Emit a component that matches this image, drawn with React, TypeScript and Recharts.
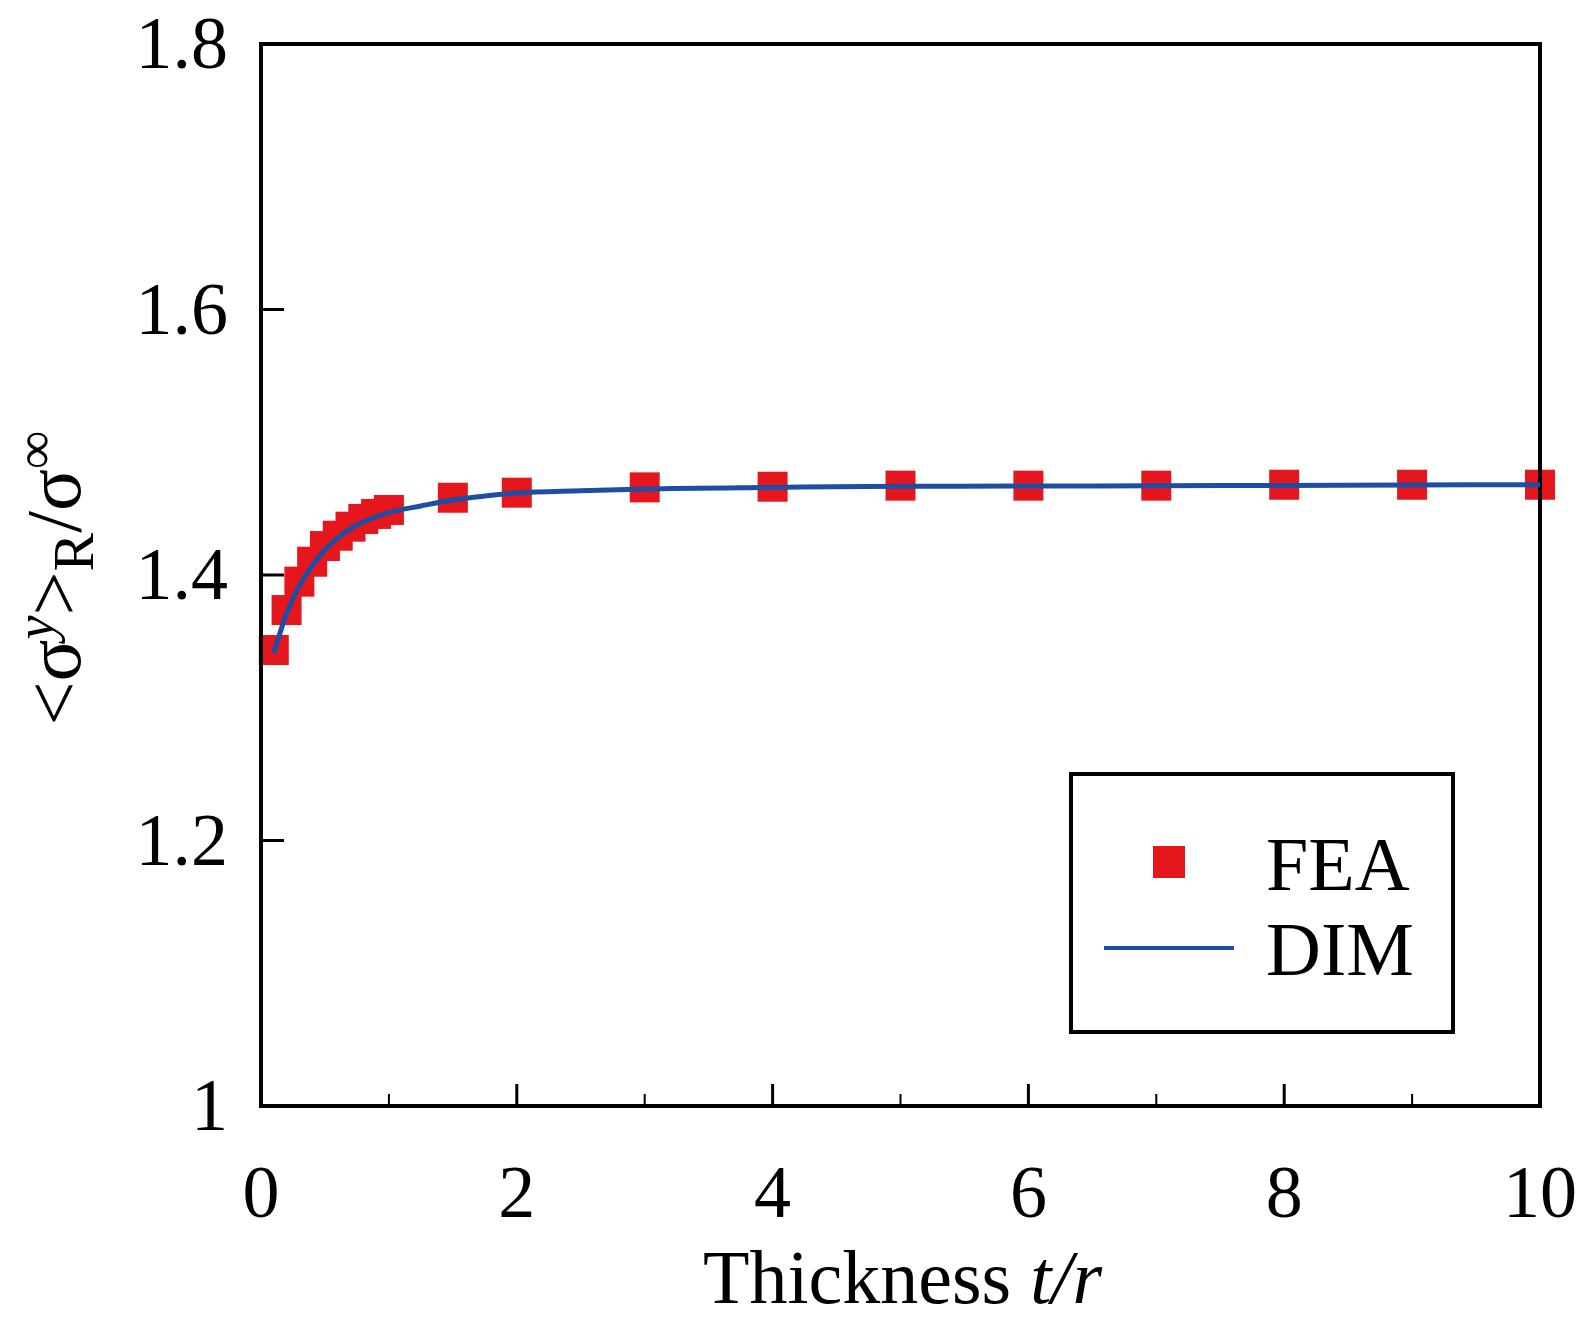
import { ComposedChart, Line, Scatter, XAxis, YAxis } from 'recharts'

// FEA samples
const feaX = [0.1, 0.2, 0.3, 0.4, 0.5, 0.6, 0.7, 0.8, 0.9, 1.0, 1.5, 2, 3, 4, 5, 6, 7, 8, 9, 10]
const feaY = [
  1.3435, 1.3736, 1.395, 1.41, 1.4218, 1.4296, 1.4364, 1.4422, 1.446, 1.449, 1.4582, 1.462,
  1.466, 1.4665, 1.4673, 1.4673, 1.4673, 1.468, 1.468, 1.468,
]

// DIM curve
const dimX = [0.1, 0.2, 0.3, 0.4, 0.5, 0.6, 0.7, 0.8, 0.9, 1.0, 1.25, 1.5, 1.75, 2, 2.5, 3, 4, 5, 6, 7, 8, 9, 10]
const dimY = [
  1.341, 1.371, 1.392, 1.407, 1.419, 1.428, 1.435, 1.44, 1.444, 1.447, 1.452, 1.4565, 1.4595,
  1.4618, 1.4635, 1.4648, 1.466, 1.4668, 1.467, 1.4672, 1.4675, 1.4678, 1.468,
]

const xTicks = [0, 1, 2, 3, 4, 5, 6, 7, 8, 9, 10]
const yTicks = [1, 1.2, 1.4, 1.6, 1.8]

const fea = feaX.map((x, i) => ({ x, y: feaY[i] }))
const dim = dimX.map((x, i) => ({ x, y: dimY[i] }))

const RED = '#e5161c'
const BLUE = '#1d4ea3'
const FONT = '"Liberation Serif", "Times New Roman", serif'

const majorX = (v: number) => v % 2 === 0

function BottomTick({ x, y, payload }: any) {
  const v = payload.value
  const len = majorX(v) ? 22 : 12
  return (
    <g>
      <line x1={x} y1={y} x2={x} y2={y - len} stroke="#000" strokeWidth={majorX(v) ? 3 : 2} />
      {majorX(v) && (
        <text x={x} y={y + 111} textAnchor="middle" fontFamily={FONT} fontSize={74} fill="#000">
          {v}
        </text>
      )}
    </g>
  )
}

function TopTick({ x, y, payload }: any) {
  const v = payload.value
  const len = majorX(v) ? 22 : 12
  return <line x1={x} y1={y} x2={x} y2={y + len} stroke="#000" strokeWidth={majorX(v) ? 3 : 2} />
}

function LeftTick({ x, y, payload }: any) {
  const v = payload.value
  return (
    <g>
      <line x1={x} y1={y} x2={x + 23} y2={y} stroke="#000" strokeWidth={3} />
      <text x={x - 33} y={y + 24} textAnchor="end" fontFamily={FONT} fontSize={74} fill="#000">
        {v === 1 ? '1' : v.toFixed(1)}
      </text>
    </g>
  )
}

function RightTick({ x, y }: any) {
  return <line x1={x} y1={y} x2={x - 23} y2={y} stroke="#000" strokeWidth={3} />
}

function SquareMark({ cx, cy }: any) {
  return <rect x={cx - 15} y={cy - 15} width={30} height={30} fill={RED} />
}

function XLabel({ viewBox }: any) {
  const cx = viewBox.x + viewBox.width / 2
  return (
    <text x={cx + 2} y={viewBox.y + 197} textAnchor="middle" fontFamily={FONT} fontSize={76} fill="#000">
      Thickness <tspan fontStyle="italic">t/r</tspan>
    </text>
  )
}

function YLabel({ viewBox }: any) {
  const cy = viewBox.y + viewBox.height / 2 + 3
  const bx = 80
  return (
    <text
      x={bx}
      y={cy}
      transform={`rotate(-90 ${bx} ${cy})`}
      textAnchor="middle"
      fontFamily={FONT}
      fontSize={78}
      fill="#000"
    >
      {'<σ'}
      <tspan fontSize={54} fontStyle="italic" dy={-27}>y</tspan>
      <tspan dy={27}>{'>'}</tspan>
      <tspan fontSize={58} dy={13}>R</tspan>
      <tspan dy={-13}>/σ</tspan>
      <tspan fontSize={54} dy={-27}>∞</tspan>
    </text>
  )
}

const axisLine = { stroke: '#000', strokeWidth: 4, strokeLinecap: 'square' as const }

export default function App() {
  return (
    <div style={{ position: 'relative', width: 1583, height: 1328, background: '#fff' }}>
      <style>{'body{margin:0}'}</style>
      <ComposedChart width={1583} height={1328} margin={{ top: 4, right: 3, bottom: 72, left: 11 }}>
        <XAxis
          xAxisId="b"
          dataKey="x"
          type="number"
          domain={[0, 10]}
          ticks={xTicks}
          interval={0}
          height={150}
          tickSize={0}
          tickMargin={0}
          axisLine={axisLine}
          tick={<BottomTick />}
          label={<XLabel />}
        />
        <XAxis
          xAxisId="t"
          orientation="top"
          dataKey="x"
          type="number"
          domain={[0, 10]}
          ticks={xTicks}
          interval={0}
          height={40}
          tickSize={0}
          tickMargin={0}
          axisLine={axisLine}
          tick={<TopTick />}
        />
        <YAxis
          yAxisId="l"
          type="number"
          domain={[1, 1.8]}
          ticks={yTicks}
          interval={0}
          width={250}
          tickSize={0}
          tickMargin={0}
          axisLine={axisLine}
          tick={<LeftTick />}
          label={<YLabel />}
        />
        <YAxis
          yAxisId="r"
          orientation="right"
          type="number"
          domain={[1, 1.8]}
          ticks={yTicks}
          interval={0}
          width={40}
          tickSize={0}
          tickMargin={0}
          axisLine={axisLine}
          tick={<RightTick />}
        />
        <Scatter
          name="FEA"
          data={fea}
          dataKey="y"
          xAxisId="b"
          yAxisId="l"
          shape={<SquareMark />}
          zIndex={400}
          isAnimationActive={false}
        />
        <Line
          name="DIM"
          data={dim}
          dataKey="y"
          xAxisId="b"
          yAxisId="l"
          type="monotone"
          stroke={BLUE}
          strokeWidth={5}
          dot={false}
          activeDot={false}
          zIndex={700}
          isAnimationActive={false}
        />
      </ComposedChart>
      <svg
        width={1583}
        height={1328}
        style={{ position: 'absolute', left: 0, top: 0, pointerEvents: 'none' }}
      >
        <rect x={1071} y={774} width={382} height={258} fill="#fff" stroke="#000" strokeWidth={4} />
        <rect x={1153} y={846} width={32} height={32} fill={RED} />
        <line x1={1104} y1={948} x2={1234} y2={948} stroke={BLUE} strokeWidth={4} />
        <text x={1266} y={890} fontFamily={FONT} fontSize={76} fill="#000">FEA</text>
        <text x={1266} y={975} fontFamily={FONT} fontSize={76} fill="#000">DIM</text>
      </svg>
    </div>
  )
}
